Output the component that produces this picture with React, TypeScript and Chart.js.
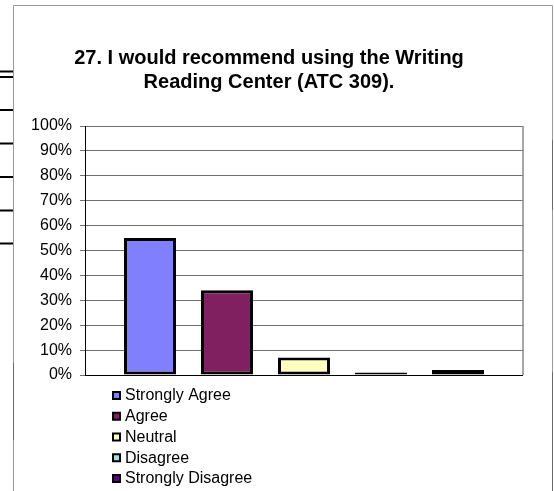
import React, { useEffect, useRef } from "react";
import { Chart, registerables } from "chart.js";

Chart.register(...registerables);

const TITLE_LINES = ["27. I would recommend using the Writing", "Reading Center (ATC 309)."];
const CATEGORIES = [""];
const SERIES_NAMES = ["Strongly Agree", "Agree", "Neutral", "Disagree", "Strongly Disagree"];
const SERIES_VALUES = [55, 34, 7, 1, 2];
const SERIES_COLORS = ["#8080FF", "#802060", "#FFFFC0", "#A0E0E0", "#600080"];
const Y_MIN = 0;
const Y_MAX = 100;
const Y_STEP = 10;

const FONT = "'Liberation Sans', Arial, Helvetica, sans-serif";

const framePlugin = {
  id: "frame",
  beforeDraw(chart: any) {
    const ctx = chart.ctx;
    ctx.save();
    ctx.fillStyle = "#ffffff";
    ctx.fillRect(0, 0, chart.width, chart.height);
    ctx.strokeStyle = "#9a9a9a";
    ctx.lineWidth = 1;
    ctx.beginPath();
    ctx.moveTo(13.5, chart.height);
    ctx.lineTo(13.5, 5.5);
    ctx.lineTo(552.5, 5.5);
    ctx.lineTo(552.5, chart.height);
    ctx.stroke();
    ctx.strokeStyle = "#6a6a6a";
    ctx.beginPath();
    ctx.moveTo(13.5, 363);
    ctx.lineTo(13.5, 440);
    ctx.moveTo(552.5, 140);
    ctx.lineTo(552.5, 210);
    ctx.moveTo(552.5, 372);
    ctx.lineTo(552.5, chart.height);
    ctx.stroke();
    ctx.fillStyle = "#000000";
    [70.5, 76, 109, 142.5, 176, 209.5, 242.5].forEach((y) => ctx.fillRect(0, y, 13, 2));
    ctx.restore();
  },
  afterDatasetsDraw(chart: any) {
    const { ctx, chartArea } = chart;
    ctx.save();
    ctx.strokeStyle = "#8a8a8a";
    ctx.lineWidth = 1.5;
    ctx.beginPath();
    ctx.moveTo(chartArea.right, chartArea.top);
    ctx.lineTo(chartArea.right, chartArea.bottom);
    ctx.stroke();
    ctx.restore();
  },
  afterDraw(chart: any) {
    const ctx = chart.ctx;
    ctx.save();
    ctx.fillStyle = "#000000";
    ctx.font = `bold 20px ${FONT}`;
    ctx.textAlign = "center";
    ctx.textBaseline = "alphabetic";
    TITLE_LINES.forEach((line, i) => ctx.fillText(line, 269, 63.5 + i * 24));
    ctx.font = `16px ${FONT}`;
    ctx.textAlign = "left";
    ctx.textBaseline = "middle";
    chart.data.datasets.forEach((ds: any, i: number) => {
      const cy = 395.5 + i * 20.75;
      ctx.fillStyle = "#000000";
      ctx.fillRect(112, cy - 4.5, 9, 9);
      ctx.fillStyle = ds.backgroundColor;
      ctx.fillRect(114, cy - 2.5, 5, 5);
      ctx.fillStyle = "#000000";
      ctx.fillText(ds.label, 125, cy + 0.5);
    });
    ctx.restore();
  },
};

export default function App() {
  const canvasRef = useRef<HTMLCanvasElement | null>(null);

  useEffect(() => {
    if (!canvasRef.current) return;
    const chart = new Chart(canvasRef.current, {
      type: "bar",
      data: {
        labels: CATEGORIES,
        datasets: SERIES_NAMES.map((name, i) => ({
          label: name,
          data: [SERIES_VALUES[i]],
          backgroundColor: SERIES_COLORS[i],
          borderColor: "#000000",
          borderWidth: 3,
          borderSkipped: false,
          categoryPercentage: 0.879,
          barPercentage: 0.675,
        })),
      },
      options: {
        responsive: false,
        animation: false,
        devicePixelRatio: 1,
        layout: { padding: { left: 0, right: 31, top: 126, bottom: 116 } },
        plugins: {
          legend: { display: false },
          title: { display: false },
          tooltip: { enabled: false },
        },
        scales: {
          x: { display: false },
          y: {
            min: Y_MIN,
            max: Y_MAX,
            afterFit: (scale: any) => {
              scale.width = 85;
            },
            ticks: {
              stepSize: Y_STEP,
              padding: 8,
              color: "#000000",
              font: { family: FONT, size: 16 },
              callback: (v: any) => `${v}%`,
            },
            grid: {
              color: (c: any) => (c.tick && c.tick.value === 0 ? "#000000" : "#707070"),
              tickColor: "#707070",
              tickLength: 5,
              lineWidth: 1,
            },
            border: { color: "#000000", width: 1 },
          },
        },
      },
      plugins: [framePlugin],
    });
    return () => chart.destroy();
  }, []);

  return (
    <div style={{ position: "absolute", left: 0, top: 0, width: 554, height: 491 }}>
      <canvas ref={canvasRef} width={554} height={491} style={{ display: "block" }} />
    </div>
  );
}
